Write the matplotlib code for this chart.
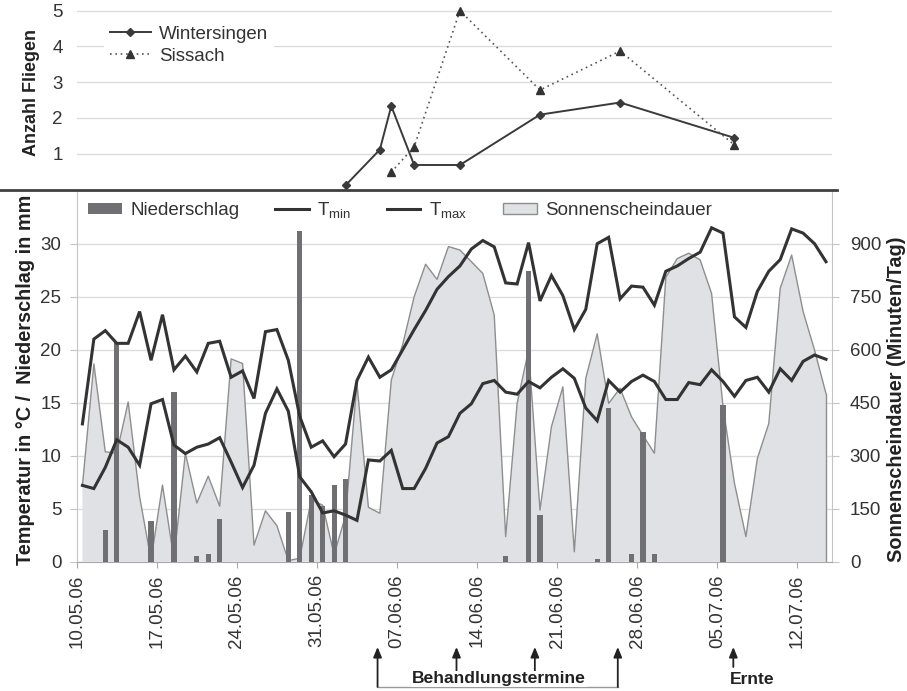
import matplotlib
matplotlib.use("Agg")
import matplotlib.pyplot as plt
from matplotlib import font_manager as fm
from matplotlib.lines import Line2D
from matplotlib.patches import Patch
import matplotlib.transforms as mtrans
import numpy as np

names = {f.name for f in fm.fontManager.ttflist}
BASE = 'Liberation Sans'
NARROW = 'Liberation Sans Narrow' if 'Liberation Sans Narrow' in names else 'Liberation Sans'
plt.rcParams['font.family'] = [BASE, 'DejaVu Sans']
plt.rcParams['mathtext.fontset'] = 'custom'
plt.rcParams['mathtext.rm'] = BASE
plt.rcParams['mathtext.it'] = BASE

# ---------------- data ----------------
# day index 0 = 10.05.06 ... 65 = 14.07.06
tmax = [13.0, 21.0, 21.8, 20.6, 20.6, 23.6, 19.0, 23.3, 18.1, 19.4,
        17.9, 20.6, 20.8, 17.4, 18.0, 15.4, 21.7, 21.9, 19.0, 13.7,
        10.8, 11.4, 9.9, 11.1, 17.1, 19.3, 17.4, 18.1, 20.0, 21.9,
        23.7, 25.7, 26.9, 27.9, 29.5, 30.3, 29.7, 26.3, 26.2, 30.1,
        24.6, 27.0, 25.1, 21.9, 23.8, 30.0, 30.6, 24.8, 26.0, 25.9,
        24.2, 27.4, 27.9, 28.6, 29.2, 31.5, 31.0, 23.1, 22.1, 25.5,
        27.4, 28.5, 31.4, 31.0, 30.0, 28.3]
tmin = [7.2, 6.9, 8.9, 11.5, 10.8, 9.1, 14.9, 15.3, 11.0, 10.2,
        10.8, 11.1, 11.7, 9.4, 7.0, 9.1, 14.0, 16.3, 14.2, 8.0,
        6.6, 4.6, 4.8, 4.4, 3.9, 9.6, 9.5, 10.5, 6.9, 6.9,
        8.8, 11.2, 11.8, 14.0, 14.9, 16.8, 17.1, 16.0, 15.8, 17.0,
        16.4, 17.4, 18.2, 17.3, 14.5, 13.3, 17.1, 16.0, 17.0, 17.6,
        17.0, 15.3, 15.3, 16.9, 16.7, 18.1, 17.0, 15.6, 17.1, 17.4,
        16.0, 18.2, 17.1, 18.9, 19.5, 19.1]
sonne = [215, 560, 311, 307, 452, 184, 5, 217, 8, 307,
         166, 242, 157, 574, 561, 47, 144, 102, 3, 10,
         175, 160, 20, 130, 505, 154, 137, 514, 615, 750,
         842, 799, 892, 882, 849, 816, 698, 71, 448, 599,
         146, 382, 495, 28, 519, 645, 448, 491, 410, 358,
         307, 805, 858, 873, 854, 759, 439, 222, 71, 292,
         391, 774, 868, 708, 599, 476]
regen_tag = [2, 3, 6, 8, 10, 11, 12, 18, 19, 20, 21, 22, 23,
             37, 39, 40, 45, 46, 48, 49, 50, 56]
regen_mm = [3.0, 20.6, 3.8, 16.0, 0.5, 0.7, 4.0, 4.65, 31.2, 6.3, 5.3, 7.2, 7.8,
            0.5, 27.4, 4.4, 0.3, 14.5, 0.7, 12.2, 0.7, 14.8]

fl_w_tag = [23, 26, 27, 29, 33, 40, 47, 57]
fl_w = [0.11, 1.11, 2.33, 0.68, 0.68, 2.09, 2.43, 1.44]
fl_s_tag = [27, 29, 33, 40, 47, 57]
fl_s = [0.48, 1.19, 5.0, 2.78, 3.87, 1.24]

tick_tag = [-0.5, 6.5, 13.5, 20.5, 27.5, 34.5, 41.5, 48.5, 55.5, 62.5]
tick_lab = ['10.05.06', '17.05.06', '24.05.06', '31.05.06', '07.06.06',
            '14.06.06', '21.06.06', '28.06.06', '05.07.06', '12.07.06']
behandlung = [25.8, 32.7, 39.55, 46.8]
ernte = 56.9

days = np.arange(len(tmax))

W, H = 907, 691
fig = plt.figure(figsize=(W / 100, H / 100), dpi=100)

def fx(px):
    return px / W

def fy(py):
    return 1 - py / H

TXT = '#333333'
L, R = 76.7, 831.7

# ---------------- bottom panel ----------------
ax1 = fig.add_axes([fx(L), fy(561.7), fx(R - L), (561.7 - 190.7) / H])
ax2 = ax1.twinx()

# sunshine (right axis, drawn underneath)
ax2.fill_between(days, 0, sonne, facecolor='#e0e1e4', edgecolor='none', zorder=2)
ax2.plot(days, sonne, color='#8e8e8e', lw=1.0, zorder=3)
ax2.plot([days[-1], days[-1]], [0, sonne[-1]], color='#8e8e8e', lw=1.0, zorder=3)
ax2.set_ylim(0, 1050)
ax2.set_yticks([0, 150, 300, 450, 600, 750, 900])
ax2.grid(axis='y', color='#dcdcdc', lw=1.0, zorder=0)
ax2.set_axisbelow(True)

ax1.set_zorder(ax2.get_zorder() + 1)
ax1.patch.set_visible(False)
ax1.bar(regen_tag, regen_mm, width=0.45, color='#707074', zorder=3)
ax1.plot(days, tmin, color='#333333', lw=2.2, zorder=4, solid_joinstyle='miter')
ax1.plot(days, tmax, color='#333333', lw=2.2, zorder=4, solid_joinstyle='miter')
ax1.set_ylim(0, 35)
ax1.set_yticks([0, 5, 10, 15, 20, 25, 30])
ax1.set_xlim(-0.5, 65.5)
ax1.set_xticks(tick_tag)
ax1.set_xticklabels(tick_lab, rotation=90)

for a in (ax1, ax2):
    for s in a.spines.values():
        s.set_visible(False)
ax1.spines['left'].set_visible(True)
ax1.spines['left'].set_color('#c4c4c4')
ax1.spines['bottom'].set_visible(True)
ax1.spines['bottom'].set_color('#a8a8a8')
ax2.spines['right'].set_visible(True)
ax2.spines['right'].set_color('#c4c4c4')

ax1.tick_params(axis='y', length=5, color='#c4c4c4', pad=6, labelsize=13.5, labelcolor=TXT)
ax2.tick_params(axis='y', length=5, color='#c4c4c4', pad=8, labelsize=13.5, labelcolor=TXT)
ax1.tick_params(axis='x', length=4, color='#a8a8a8', pad=5, labelsize=13.5, labelcolor=TXT)

leg_handles = [Patch(facecolor='#707074', edgecolor='none'),
               Line2D([], [], color='#333333', lw=2.2),
               Line2D([], [], color='#333333', lw=2.2),
               Patch(facecolor='#e0e1e4', edgecolor='#8e8e8e')]
leg_labels = ['Niederschlag', r'T$_{\mathrm{min}}$', r'T$_{\mathrm{max}}$', 'Sonnenscheindauer']
lg = ax1.legend(leg_handles, leg_labels, ncol=4, loc='center left',
                bbox_to_anchor=(fx(88), fy(210)), bbox_transform=fig.transFigure,
                frameon=False, fontsize=13.5, handlelength=1.8, handleheight=0.55,
                handletextpad=0.45, columnspacing=1.9, borderpad=0, borderaxespad=0)
for t in lg.get_texts():
    t.set_color(TXT)

fig.text(fx(26), fy(380), 'Temperatur in °C /  Niederschlag in mm', rotation=90,
         ha='center', va='center', fontsize=14.3, fontweight='bold', color='#222222')
fig.text(fx(897), fy(399), 'Sonnenscheindauer (Minuten/Tag)', rotation=90,
         ha='center', va='center', fontsize=14.3, fontweight='bold', color='#222222')

# ---------------- top panel ----------------
axt = fig.add_axes([fx(L), fy(189.3), fx(R - L), 189.3 / H])
axt.plot(fl_w_tag, fl_w, color='#3a3a3a', lw=1.4, marker='D', markersize=4.5, zorder=4)
axt.plot(fl_s_tag, fl_s, color='#555555', lw=1.2, ls=(0, (1, 2.2)), marker='^',
         markersize=6, markerfacecolor='#333333', markeredgecolor='#333333', zorder=4)
axt.set_xlim(-0.5, 65.5)
axt.set_ylim(0, 5.3)
axt.set_yticks([1, 2, 3, 4, 5])
axt.set_xticks([])
axt.grid(axis='y', color='#dcdcdc', lw=1.0)
axt.set_axisbelow(True)
for s in axt.spines.values():
    s.set_visible(False)
axt.patch.set_visible(False)
axt.tick_params(axis='y', length=0, pad=10, labelsize=13.5, labelcolor=TXT)
lt = axt.legend(['Wintersingen', 'Sissach'], loc='upper left',
                bbox_to_anchor=(fx(104), fy(20)), bbox_transform=fig.transFigure,
                frameon=True, facecolor='white', edgecolor='none', framealpha=1,
                fontsize=13.5, handlelength=2.2, handletextpad=0.45,
                borderpad=0.3, borderaxespad=0, labelspacing=0.25)
for t in lt.get_texts():
    t.set_color(TXT)
fig.text(fx(31), fy(92), 'Anzahl Fliegen', rotation=90, ha='center', va='center',
         fontsize=13, fontweight='bold', color='#222222')

# separator line
fig.add_artist(Line2D([0, fx(837)], [fy(190), fy(190)], color='#404040', lw=2.0,
                      transform=fig.transFigure))

# ---------------- annotations ----------------
tr = mtrans.blended_transform_factory(ax1.transData, fig.transFigure)
ap = dict(arrowstyle='-|>,head_length=0.6,head_width=0.25', color='#222222', lw=1.3,
          shrinkA=0, shrinkB=0)
bases = [687, 671, 671, 687]
for d, b in zip(behandlung, bases):
    ax1.annotate('', xy=(d, fy(647)), xytext=(d, fy(b)), xycoords=tr, textcoords=tr,
                 arrowprops=ap, annotation_clip=False)
ax1.annotate('', xy=(ernte, fy(647)), xytext=(ernte, fy(667)), xycoords=tr, textcoords=tr,
             arrowprops=ap, annotation_clip=False)
fig.add_artist(Line2D([behandlung[0], behandlung[-1]], [fy(687), fy(687)],
                      color='#9a9a9a', lw=1.0, transform=tr, zorder=1))
fsz = 14 if NARROW != BASE else 12.6
fig.text(fx(499), fy(679), 'Behandlungstermine', ha='center', va='center',
         fontsize=fsz, fontweight='bold', family=NARROW, color='#222222', zorder=3,
         bbox=dict(facecolor='white', edgecolor='none', pad=0.5))
fig.text(fx(752), fy(679), 'Ernte', ha='center', va='center',
         fontsize=fsz, fontweight='bold', family=NARROW, color='#222222')

fig.savefig('out.png', dpi=100)
